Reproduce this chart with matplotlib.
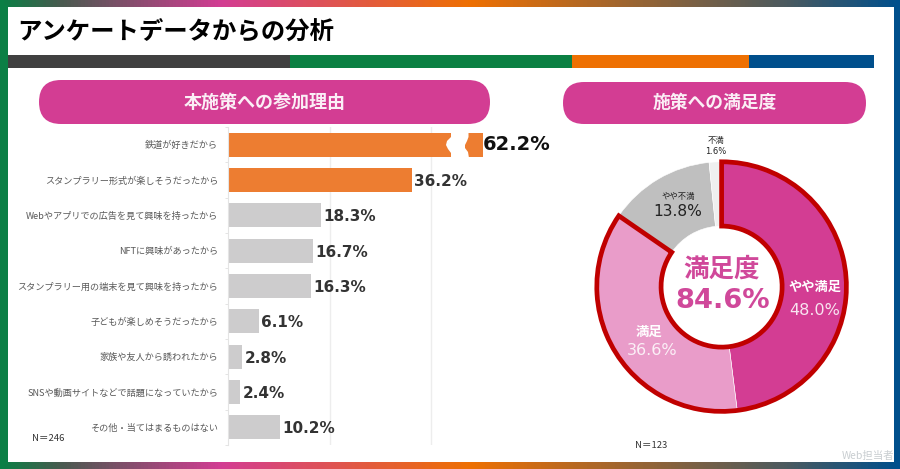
import numpy as np
import matplotlib
matplotlib.use("Agg")
import matplotlib.pyplot as plt
from matplotlib.colors import LinearSegmentedColormap
from matplotlib.patches import FancyBboxPatch, Polygon, Rectangle, Wedge

plt.rcParams['font.family'] = ['Noto Sans CJK JP', 'DejaVu Sans']

# reasons chart
reasons = ['鉄道が好きだから', 'スタンプラリー形式が楽しそうだったから', 'Webやアプリでの広告を見て興味を持ったから',
           'NFTに興味があったから', 'スタンプラリー用の端末を見て興味を持ったから', '子どもが楽しめそうだったから',
           '家族や友人から誘われたから', 'SNSや動画サイトなどで話題になっていたから', 'その他・当てはまるものはない']
reason_values = [62.2, 36.2, 18.3, 16.7, 16.3, 6.1, 2.8, 2.4, 10.2]
reason_colors = ['#ED7D31', '#ED7D31'] + ['#CDCCCD'] * 7
BAR_CUT = 50.2  # the 62.2 bar is drawn cut off at this length

# satisfaction donut
sat_labels = ['やや満足', '満足', 'やや不満', '不満']
sat_values = [48.0, 36.6, 13.8, 1.6]
sat_colors = ['#D33D93', '#E99CC9', '#BFBFBF', '#EFEFEF']

W, H = 900, 469
fig = plt.figure(figsize=(W / 100, H / 100), dpi=100)
fig.patch.set_facecolor('white')


def px_axes(left, top, right, bottom, **kw):
    return fig.add_axes([left / W, 1 - bottom / H, (right - left) / W, (bottom - top) / H], **kw)


# bars
ax = px_axes(228, 127, 228 + 5.075 * 60, 445)
y = np.arange(len(reasons))
ax.barh(y, np.minimum(reason_values, BAR_CUT), height=0.68, color=reason_colors, zorder=2)
ax.set_xlim(0, 60)
ax.set_ylim(len(reasons) - 0.5, -0.5)
ax.set_xticks([20, 40])
ax.set_xticklabels([])
ax.xaxis.grid(True, color='#EDEDED', lw=1, zorder=0)
ax.tick_params(axis='x', length=0)
ax.set_yticks(y)
ax.set_yticklabels(reasons, fontsize=6.6, color='#595959')
ax.tick_params(axis='y', which='major', length=0, pad=7)
ax.set_yticks(np.arange(len(reasons) + 1) - 0.5, minor=True)
ax.tick_params(axis='y', which='minor', length=2, color='#E4E4E4', width=0.7)
for s in ['top', 'right', 'bottom']:
    ax.spines[s].set_visible(False)
ax.spines['left'].set_color('#E4E4E4')
ax.spines['left'].set_linewidth(0.8)
ax.patch.set_alpha(0)

for i, v in enumerate(reason_values):
    if v > BAR_CUT:
        ax.text(BAR_CUT, i, '%.1f%%' % v, va='center', ha='left', fontsize=14, fontweight='bold',
                color='#111111', family='DejaVu Sans', zorder=3)
    else:
        ax.text(v + 0.5, i + 0.04, '%.1f%%' % v, va='center', ha='left', fontsize=11, fontweight='bold',
                color='#333333', family='DejaVu Sans', zorder=3)

# donut
ax2 = px_axes(721.6 - 156, 286.6 - 156, 721.6 + 156, 286.6 + 156)
wedges, _ = ax2.pie(sat_values, colors=sat_colors, startangle=90, counterclock=False,
                    wedgeprops=dict(width=0.515, edgecolor='white', linewidth=0.4))
ax2.set_xlim(-1.25, 1.25)
ax2.set_ylim(-1.25, 1.25)
# red outline round the two satisfied slices
ax2.add_patch(Wedge((0, 0), 1, wedges[1].theta1, wedges[0].theta2, width=0.515, fill=False,
                    edgecolor='#C00000', linewidth=3.4, joinstyle='miter', zorder=5))

# frame, header and text in pixel coordinates on top
ov = px_axes(0, 0, W, H)
ov.set_xlim(0, W)
ov.set_ylim(H, 0)
ov.axis('off')
ov.patch.set_alpha(0)

frame_cmap = LinearSegmentedColormap.from_list('frame', [
    (0, '#0B7F45'), (60 / W, '#4A5A50'), (220 / W, '#D33D93'), (470 / W, '#EE7002'),
    (790 / W, '#4A5A60'), (1, '#004F8C')])
grad = np.linspace(0, 1, W).reshape(1, -1)
ov.imshow(grad, extent=(0, W, 7, 0), cmap=frame_cmap, aspect='auto', zorder=1)
ov.imshow(grad, extent=(0, W, 469, 462), cmap=frame_cmap, aspect='auto', zorder=1)
ov.set_xlim(0, W)
ov.set_ylim(H, 0)
ov.add_patch(Rectangle((0, 5), 8, 459, color='#0B7F45', lw=0, zorder=1))
ov.add_patch(Rectangle((893.5, 5), 6.5, 459, color='#004F8C', lw=0, zorder=1))

header_x = [8, 290, 572, 749, 874]
header_c = ['#404040', '#0B8043', '#EE7002', '#004F8C']
for i, c in enumerate(header_c):
    ov.add_patch(Rectangle((header_x[i], 55), header_x[i + 1] - header_x[i], 13, color=c, lw=0))

ov.text(17.5, 32.5, 'アンケートデータからの分析', fontsize=17.6, fontweight='bold', color='black', va='center', ha='left')

for (x0, x1, y0, y1, txt, fs) in [(39, 490, 80, 124, '本施策への参加理由', 13.0), (563, 866, 82, 124, '施策への満足度', 12.8)]:
    r = (y1 - y0) / 2
    ov.add_patch(FancyBboxPatch((x0 + r, y0 + r), x1 - x0 - 2 * r, 0,
                                boxstyle='round,pad=%g,rounding_size=%g' % (r, r), fc='#D33D93', ec='none', lw=0))
    ov.text((x0 + x1) / 2 + (0 if x0 < 100 else 0.5), (y0 + y1) / 2, txt, fontsize=fs, fontweight='bold', color='#FBEFF6',
            ha='center', va='center')

# white cut through the long bar
ov.add_patch(Polygon([(451, 132), (451, 137), (447, 141), (446, 145), (448, 149), (451, 153), (451, 158),
                      (469, 158), (468, 152), (465, 148), (465, 145), (467, 141), (468.5, 137), (468.5, 132)],
                     closed=True, fc='white', ec='none'))

ov.text(48.5, 438.7, 'N＝246', fontsize=6.8, color='#333333', ha='center', va='center')
ov.text(650.7, 445, 'N＝123', fontsize=6.8, color='#333333', ha='center', va='center')

pink = '#D0489A'
ov.text(721.7, 269.5, '満足度', fontsize=18.4, fontweight='bold', color=pink, ha='center', va='center')
ov.text(722.5, 301.5, '84.6%', fontsize=19.6, fontweight='bold', color=pink, ha='center', va='center', family='DejaVu Sans')
ov.text(815, 287, sat_labels[0], fontsize=9.5, fontweight='bold', color='white', ha='center', va='center')
ov.text(814.5, 310.7, '%.1f%%' % sat_values[0], fontsize=11.5, color='#F8E4F0', ha='center', va='center', family='DejaVu Sans')
ov.text(649.5, 331.7, sat_labels[1], fontsize=9.6, fontweight='bold', color='white', ha='center', va='center')
ov.text(651.7, 350.7, '%.1f%%' % sat_values[1], fontsize=11.5, color='#FBEFF6', ha='center', va='center', family='DejaVu Sans')
ov.text(678, 196.7, sat_labels[2], fontsize=6, color='#222222', ha='center', va='center')
ov.text(678, 211.7, '%.1f%%' % sat_values[2], fontsize=11.2, color='#222222', ha='center', va='center', family='DejaVu Sans')
ov.text(715.7, 141, sat_labels[3], fontsize=6, color='#222222', ha='center', va='center')
ov.text(715.7, 151.3, '%.1f%%' % sat_values[3], fontsize=6, color='#222222', ha='center', va='center', family='DejaVu Sans')

# watermark
ov.text(842, 456, 'Web担当者', fontsize=7.5, color='#C8CDD0', ha='left', va='center', zorder=6)

fig.savefig('out.png', dpi=100)
